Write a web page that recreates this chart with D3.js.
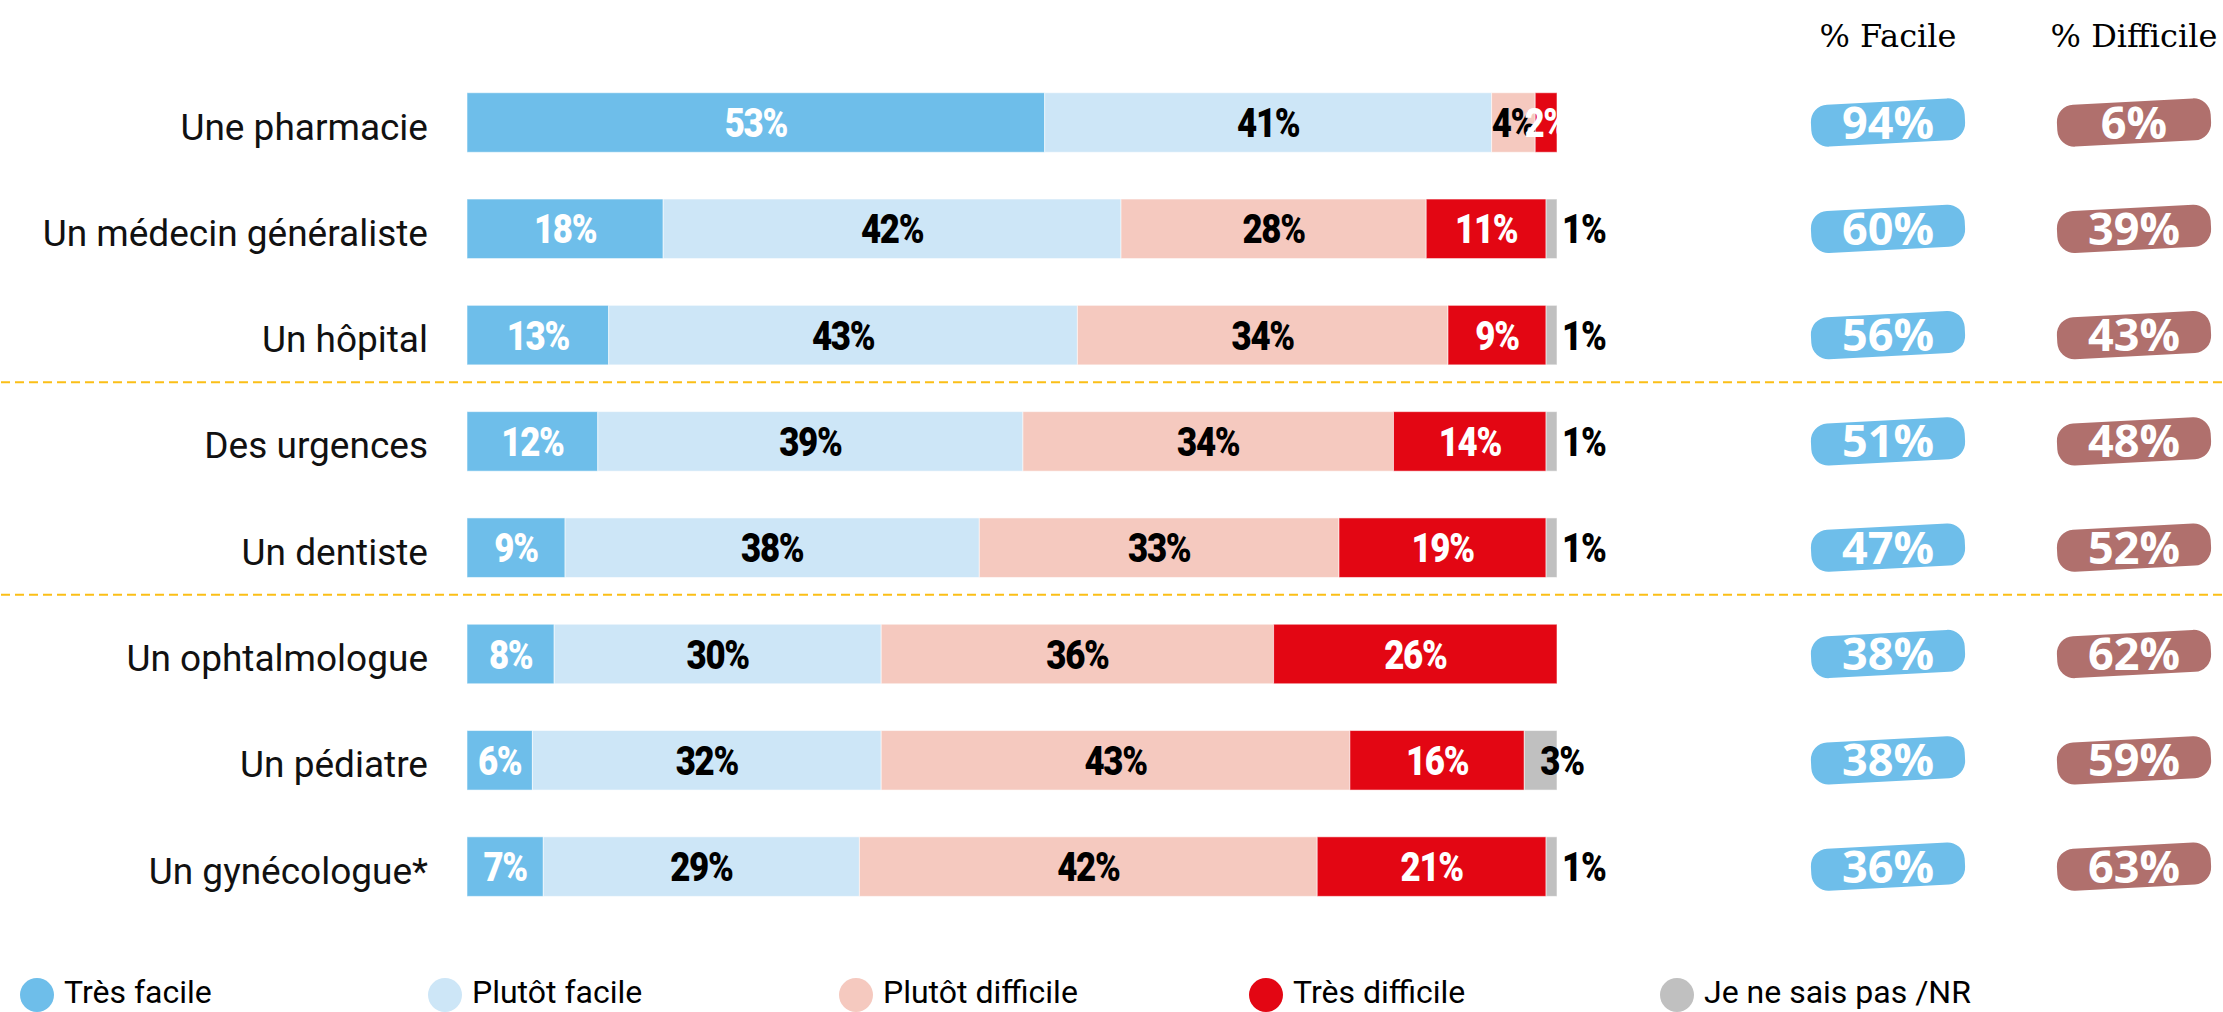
<!DOCTYPE html>
<html>
<head>
<meta charset="utf-8">
<script src="https://cdn.jsdelivr.net/npm/d3@7"></script>
<style>
  html, body { margin: 0; padding: 0; background: #fff; }
  svg { display: block; }
</style>
</head>
<body>
<svg id="chart" width="2223" height="1012"></svg>
<script>
// ---------- DATA ----------
const categories = ["Une pharmacie", "Un médecin généraliste", "Un hôpital", "Des urgences",
  "Un dentiste", "Un ophtalmologue", "Un pédiatre", "Un gynécologue*"];
const tresFacile      = [53, 18, 13, 12, 9, 8, 6, 7];
const plutotFacile    = [41, 42, 43, 39, 38, 30, 32, 29];
const plutotDifficile = [4, 28, 34, 34, 33, 36, 43, 42];
const tresDifficile   = [2, 11, 9, 14, 19, 26, 16, 21];
const nsp             = [0, 1, 1, 1, 1, 0, 3, 1];
const totalFacile     = [94, 60, 56, 51, 47, 38, 38, 36];
const totalDifficile  = [6, 39, 43, 48, 52, 62, 59, 63];
const seriesNames = ["Très facile", "Plutôt facile", "Plutôt difficile", "Très difficile", "Je ne sais pas /NR"];
const headerLabels = ["% Facile", "% Difficile"];
const groupBreaksAfter = [2, 4]; // dashed separators after these row indexes

// ---------- STYLE ----------
const colors = ["#6ebeea", "#cde6f7", "#f5c9bf", "#e30613", "#c0c0c0"];
const labelColors = ["#fff", "#000", "#000", "#fff", "#000"];
const badgeColors = ["#6ebeea", "#b0706d"];

const svg = d3.select("#chart");
const seriesArrays = [tresFacile, plutotFacile, plutotDifficile, tresDifficile, nsp];

const x = d3.scaleLinear().domain([0, 100]).range([467, 1557]);
const y = d3.scaleBand().domain(categories).range([69.35, 919.75])
  .paddingInner(0.44).paddingOuter(0.22);
const bh = y.bandwidth();

// stacked data
const rows = categories.map((c, i) => {
  let acc = 0;
  return seriesArrays.map((arr, s) => {
    const seg = { cat: c, s, v: arr[i], x0: acc, x1: acc + arr[i] };
    acc += arr[i];
    return seg;
  });
});

// Category labels
svg.append("g").selectAll("text").data(categories).join("text")
  .attr("x", 428)
  .attr("y", d => y(d) + bh / 2 + 17)
  .attr("text-anchor", "end")
  .attr("font-family", "Roboto, sans-serif")
  .attr("font-size", 37)
  .attr("fill", "#111")
  .text(d => d);

// Dashed separators
svg.append("g").selectAll("line").data(groupBreaksAfter).join("line")
  .attr("x1", 1).attr("x2", 2223)
  .attr("y1", d => (y(categories[d]) + y(categories[d + 1]) + bh) / 2 - 6)
  .attr("y2", d => (y(categories[d]) + y(categories[d + 1]) + bh) / 2 - 6)
  .attr("stroke", "#fbbf17").attr("stroke-width", 2)
  .attr("stroke-dasharray", "9,5");

// Bars
const rowG = svg.append("g").selectAll("g").data(rows).join("g");
rowG.selectAll("rect").data(d => d.filter(s => s.v > 0)).join("rect")
  .attr("x", d => x(d.x0))
  .attr("y", d => y(d.cat))
  .attr("width", d => x(d.x1) - x(d.x0))
  .attr("height", bh)
  .attr("fill", d => colors[d.s])
  .attr("stroke", "rgba(255,255,255,0.55)")
  .attr("stroke-width", 1);

// Value labels
rowG.selectAll("text").data(d => d.filter(s => s.v > 0)).join("text")
  .attr("transform", d => {
    const by = y(d.cat) + bh / 2 + 14.5;
    const bx = d.s === 4 ? x(d.x0) + 16 : (x(d.x0) + x(d.x1)) / 2;
    return `translate(${bx},${by}) scale(0.87,1)`;
  })
  .attr("text-anchor", d => d.s === 4 ? "start" : "middle")
  .attr("font-family", "Roboto, sans-serif")
  .attr("font-weight", 900)
  .attr("font-size", 40)
  .attr("letter-spacing", -1.5)
  .attr("fill", d => labelColors[d.s])
  .text(d => d.v + "%");

// Headers
const colX = [1888, 2134];
svg.append("g").selectAll("text").data(headerLabels).join("text")
  .attr("x", (d, i) => colX[i])
  .attr("y", 47)
  .attr("text-anchor", "middle")
  .attr("font-family", "'DejaVu Serif', serif")
  .attr("font-size", 32)
  .attr("fill", "#000")
  .text(d => d);

// Badges
[totalFacile, totalDifficile].forEach((arr, k) => {
  const g = svg.append("g").selectAll("g").data(categories).join("g")
    .attr("transform", d => `translate(${colX[k]},${y(d) + bh / 2})`);
  g.append("rect")
    .attr("x", -77).attr("y", -21).attr("width", 154).attr("height", 42)
    .attr("rx", 17).attr("ry", 17)
    .attr("transform", "rotate(-3)")
    .attr("fill", badgeColors[k]);
  g.append("text")
    .attr("x", 0).attr("y", 16)
    .attr("text-anchor", "middle")
    .attr("font-family", "'Open Sans', sans-serif")
    .attr("font-weight", 700)
    .attr("font-size", 45)
    .attr("fill", "#fff")
    .text((d, i) => arr[i] + "%");
});

// Legend
const legX = [37, 445, 856, 1266, 1677];
const leg = svg.append("g").selectAll("g").data(seriesNames).join("g")
  .attr("transform", (d, i) => `translate(${legX[i]},995)`);
leg.append("circle").attr("r", 17).attr("fill", (d, i) => colors[i]);
leg.append("text")
  .attr("x", 27).attr("y", 8)
  .attr("font-family", "Roboto, sans-serif")
  .attr("font-size", 32)
  .attr("fill", "#000")
  .text(d => d);
</script>
</body>
</html>
